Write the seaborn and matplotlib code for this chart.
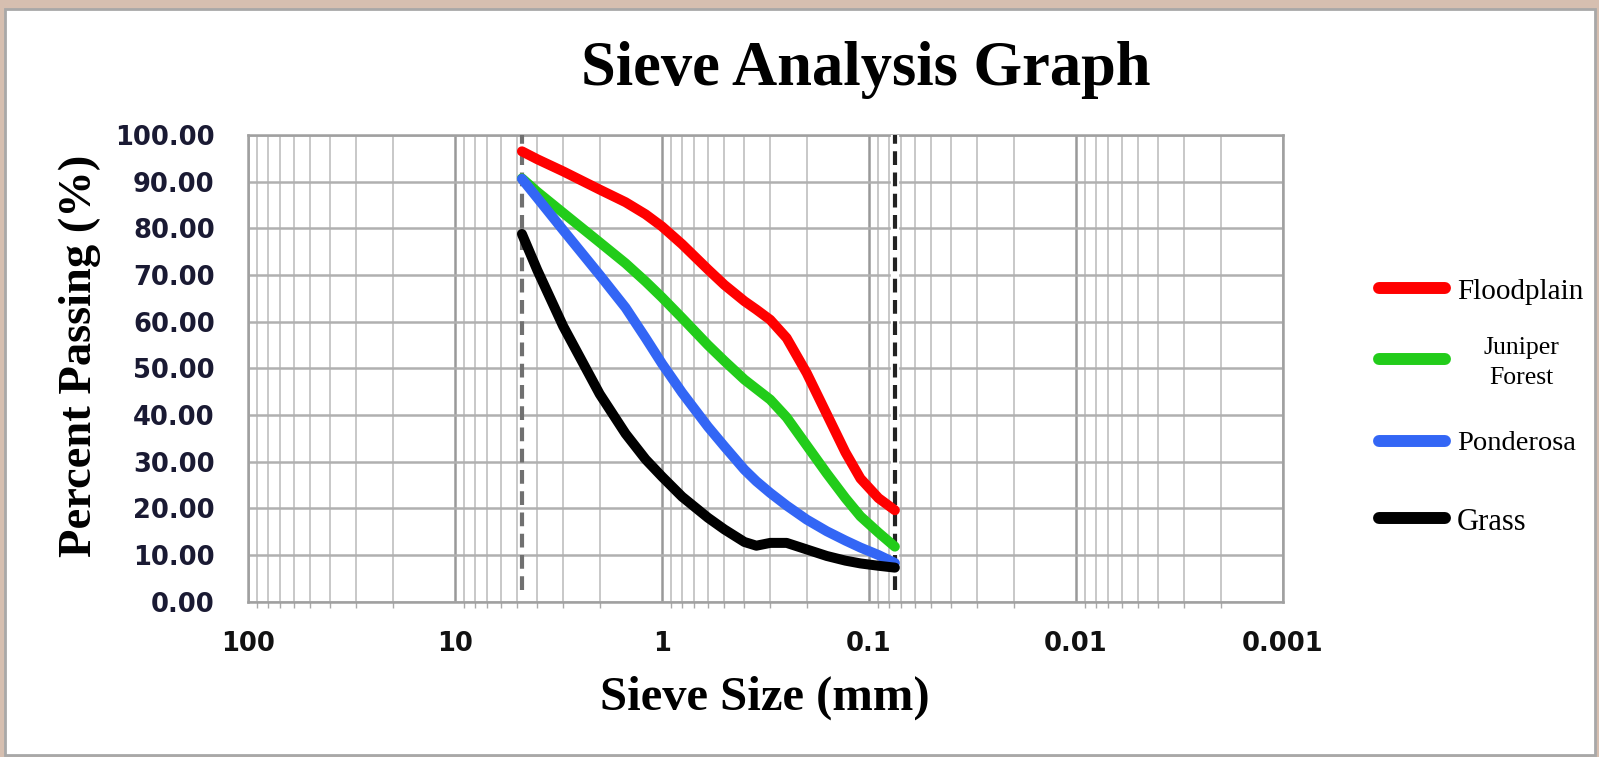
import numpy as np
import pandas as pd
import matplotlib
matplotlib.use('Agg')
import matplotlib.pyplot as plt
import matplotlib.ticker as mticker
from matplotlib.patches import Rectangle
from matplotlib.lines import Line2D
import seaborn as sns

# values (sieve size in mm, percent passing)
sizes = [4.75, 4, 3, 2, 1.5, 1.2, 1, 0.8, 0.6, 0.5, 0.4, 0.35, 0.3, 0.25,
         0.2, 0.16, 0.13, 0.11, 0.09, 0.075]
floodplain = [96.5, 94.8, 92.2, 88.3, 85.6, 83.0, 80.4, 76.6, 71.2, 67.9,
              64.4, 62.6, 60.4, 56.5, 49.0, 40.2, 32.0, 26.4, 22.2, 19.6]
juniper = [90.7, 87.8, 83.3, 77.0, 72.5, 68.6, 65.2, 60.8, 55.0, 51.6,
           47.6, 45.6, 43.3, 39.5, 33.5, 27.5, 22.2, 18.3, 14.8, 11.8]
ponderosa = [90.6, 86.5, 79.6, 70.0, 63.0, 56.5, 51.0, 44.8, 37.5, 33.3,
             28.3, 25.8, 23.3, 20.6, 17.6, 15.1, 13.1, 11.6, 10.0, 8.3]
grass = [78.8, 71.0, 59.0, 44.5, 36.0, 30.5, 26.8, 22.5, 18.0, 15.5,
         12.8, 12.0, 12.6, 12.6, 11.2, 9.8, 8.8, 8.2, 7.7, 7.3]

site_names = ['Floodplain', 'Juniper\nForest', 'Ponderosa', 'Grass']
site_colors = ['#ff0000', '#22cc1a', '#3366f5', '#000000']
limit_sizes = [4.75, 0.075]

x_ticks = [100, 10, 1, 0.1, 0.01, 0.001]
x_ticklabels = ['100', '10', '1', '0.1', '0.01', '0.001']
y_ticks = [0, 10, 20, 30, 40, 50, 60, 70, 80, 90, 100]

# long form table for seaborn
df = pd.DataFrame({
    'size': sizes * 4,
    'passing': floodplain + juniper + ponderosa + grass,
    'site': [s for s in site_names for _ in sizes],
})

sns.set_style('white')
plt.rcParams['font.family'] = ['DejaVu Sans']
plt.rcParams['text.color'] = 'black'

fig = plt.figure(figsize=(15.99, 7.57), dpi=100, facecolor='#d6bfb0')
# white chart panel with grey border
fig.add_artist(Rectangle((5 / 1599, 2 / 757), 1590 / 1599, 746 / 757,
                         transform=fig.transFigure, facecolor='white',
                         edgecolor='#a8a8a8', lw=2, zorder=0))

ax = fig.add_axes([248 / 1599, 1 - 601.7 / 757, (1283 - 248) / 1599, (601.7 - 135) / 757])
ax.set_facecolor('white')

sns.lineplot(data=df, x='size', y='passing', hue='site', palette=site_colors,
             lw=7.2, ax=ax, solid_capstyle='round', solid_joinstyle='round',
             legend=False, zorder=5)

ax.set_xscale('log')
ax.set_xlim(100, 0.001)
ax.set_ylim(0, 100)

# dashed limits of the sieve stack
ax.axvline(limit_sizes[0], ymin=0.025, ymax=1, color='#707070', lw=3, ls=(0, (3.3, 1.8)), zorder=4)
ax.axvline(limit_sizes[1], ymin=0.025, ymax=1, color='white', lw=6, zorder=3)
ax.axvline(limit_sizes[1], ymin=0.025, ymax=1, color='#222222', lw=3, ls=(0, (3.3, 1.8)), zorder=4)

ax.set_xticks(x_ticks)
ax.set_xticklabels(x_ticklabels)
ax.xaxis.set_minor_locator(mticker.LogLocator(base=10, subs=np.arange(2, 10), numticks=20))
ax.xaxis.set_minor_formatter(mticker.NullFormatter())
ax.set_yticks(y_ticks)
ax.yaxis.set_major_formatter(mticker.FormatStrFormatter('%.2f'))

ax.grid(which='major', axis='x', color='#999999', lw=1.8, zorder=0)
ax.grid(which='major', axis='y', color='#b0b0b0', lw=1.8, zorder=0)
ax.grid(which='minor', axis='x', color='#c8c8c8', lw=1.4, zorder=0)
ax.set_axisbelow(True)

ax.tick_params(axis='x', which='major', direction='out', length=8, width=1.2,
               color='#999999', pad=13, labelsize=18.5, labelcolor='#111111')
ax.tick_params(axis='x', which='minor', direction='out', length=4, width=1,
               color='#aaaaaa', bottom=True)
ax.tick_params(axis='y', which='major', direction='out', length=9, width=1.8,
               color='#b0b0b0', pad=15, labelsize=18.5, labelcolor='#1a1a33')
for lab in ax.get_xticklabels() + ax.get_yticklabels():
    lab.set_fontweight('bold')

for side in ['left', 'right', 'top', 'bottom']:
    ax.spines[side].set_color('#a0a0a0')
    ax.spines[side].set_linewidth(1.8)

ax.set_xlabel('')
ax.set_ylabel('')

serif = ['Liberation Serif', 'DejaVu Serif']
fig.text(866 / 1599, 1 - 84.6 / 757, 'Sieve Analysis Graph', ha='center', va='baseline',
         fontsize=45, fontweight='bold', family=serif)
fig.text(765 / 1599, 1 - 698 / 757, 'Sieve Size (mm)', ha='center', va='center',
         fontsize=35, fontweight='bold', family=serif)
fig.text(80 / 1599, 1 - 356 / 757, 'Percent Passing (%)', ha='center', va='center',
         rotation=90, fontsize=33.5, fontweight='bold', family=serif)

# legend drawn by hand to follow the uneven spacing of the original
key_rows = [288, 359, 441, 518]        # pixel rows of the key swatches
label_rows = [299, 384, 450, 530]      # text baselines
label_sizes = [21, 18.5, 20.5, 22]
for name, color, yrow, ybase, fsize in zip(site_names, site_colors, key_rows, label_rows, label_sizes):
    fig.add_artist(Line2D([1379 / 1599, 1445 / 1599], [1 - yrow / 757, 1 - yrow / 757],
                          transform=fig.transFigure, color=color, lw=8.6,
                          solid_capstyle='round', zorder=6))
    if '\n' in name:
        fig.text(1521 / 1599, 1 - ybase / 757, name, ha='center', va='baseline',
                 multialignment='center', linespacing=1.45, fontsize=fsize, family=serif)
    else:
        fig.text(1457 / 1599, 1 - ybase / 757, name, ha='left', va='baseline',
                 fontsize=fsize, family=serif)

fig.savefig('out.png', dpi=100, facecolor=fig.get_facecolor())
